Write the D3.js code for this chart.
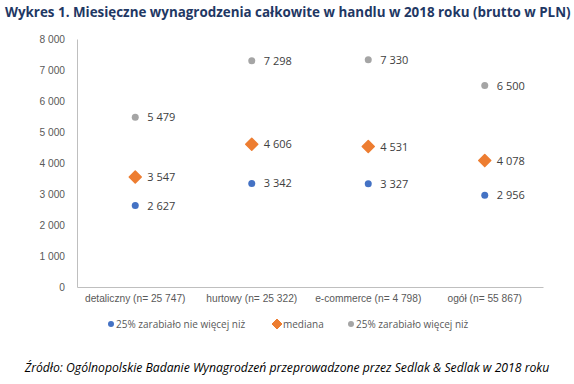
<!DOCTYPE html>
<html>
<head>
<meta charset="utf-8">
<script src="https://cdn.jsdelivr.net/npm/d3@7"></script>
<style>
  body { margin: 0; background: white; }
  svg { font-family: 'Open Sans', sans-serif; }
</style>
</head>
<body>
<div id="chart"></div>
<script>
var categories = ['detaliczny (n= 25 747)', 'hurtowy (n= 25 322)', 'e-commerce (n= 4 798)', 'ogół (n= 55 867)'];
var lowQuartile = [2627, 3342, 3327, 2956];
var median = [3547, 4606, 4531, 4078];
var highQuartile = [5479, 7298, 7330, 6500];
var yTicks = [0, 1000, 2000, 3000, 4000, 5000, 6000, 7000, 8000];

var width = 574;
var height = 384;

var svg = d3.select('#chart').append('svg')
    .attr('width', width)
    .attr('height', height);

var fmt = v => d3.format(',')(v).replace(/,/g, ' ');

svg.append('text')
    .text('Wykres 1. Miesięczne wynagrodzenia całkowite w handlu w 2018 roku (brutto w PLN)')
    .attr('x', 5)
    .attr('y', 17)
    .attr('font-size', 13.4)
    .attr('font-weight', 'bold')
    .attr('fill', '#1F3864');

var xScale = d3.scaleBand()
    .domain(categories)
    .range([77, 543]);

var yScale = d3.scaleLinear()
    .domain([0, 8000])
    .range([287, 39]);

// axes
var yAxis = d3.axisLeft(yScale).tickValues(yTicks).tickFormat(fmt).tickSize(0).tickPadding(12);
var gy = svg.append('g').attr('transform', 'translate(77,0)').call(yAxis);
gy.select('.domain').attr('stroke', '#BFBFBF');
gy.selectAll('text').attr('font-size', 10.2).attr('fill', '#595959');

var xAxis = d3.axisBottom(xScale).tickSize(0).tickPadding(8);
var gx = svg.append('g').attr('transform', 'translate(0,287)').call(xAxis);
gx.select('.domain').attr('stroke', '#BFBFBF');
gx.selectAll('text').attr('font-size', 10.2).attr('fill', '#595959');

var series = [
    { name: '25% zarabiało nie więcej niż', values: lowQuartile, color: '#4472C4', shape: 'circle' },
    { name: 'mediana', values: median, color: '#ED7D31', shape: 'diamond' },
    { name: '25% zarabiało więcej niż', values: highQuartile, color: '#A5A5A5', shape: 'circle' }
];

function marker(g, s) {
    if (s.shape === 'circle') {
        g.append('circle').attr('r', 3.5).attr('fill', s.color);
    } else {
        g.append('path')
            .attr('d', 'M0,-6L6,0L0,6L-6,0Z')
            .attr('fill', s.color)
            .attr('stroke', s.color)
            .attr('stroke-linejoin', 'round')
            .attr('stroke-width', 1.5);
    }
}

series.forEach(s => {
    var pts = svg.append('g').selectAll('g')
        .data(s.values)
        .enter()
        .append('g')
        .attr('transform', (d, i) => `translate(${xScale(categories[i]) + xScale.bandwidth() / 2},${yScale(d)})`);
    pts.each(function () { marker(d3.select(this), s); });
    pts.append('text')
        .text(d => fmt(d))
        .attr('x', 12)
        .attr('y', 4)
        .attr('font-size', 11)
        .attr('fill', '#404040');
});

// legend
var legendX = [111, 277, 351];
series.forEach((s, i) => {
    var g = svg.append('g').attr('transform', `translate(${legendX[i]},324)`);
    if (s.shape === 'circle') {
        g.append('circle').attr('r', 3).attr('fill', s.color);
    } else {
        g.append('path').attr('d', 'M0,-5L5,0L0,5L-5,0Z').attr('fill', s.color)
            .attr('stroke', s.color).attr('stroke-linejoin', 'round');
    }
    g.append('text')
        .text(s.name)
        .attr('x', s.shape === 'circle' ? 5 : 6)
        .attr('y', 3.5)
        .attr('font-size', 10)
        .attr('fill', '#595959');
});

svg.append('text')
    .text('Źródło: Ogólnopolskie Badanie Wynagrodzeń przeprowadzone przez Sedlak & Sedlak w 2018 roku')
    .attr('x', 287)
    .attr('y', 372)
    .attr('text-anchor', 'middle')
    .attr('font-size', 12.2)
    .attr('font-style', 'italic')
    .attr('fill', '#000');
</script>
</body>
</html>
